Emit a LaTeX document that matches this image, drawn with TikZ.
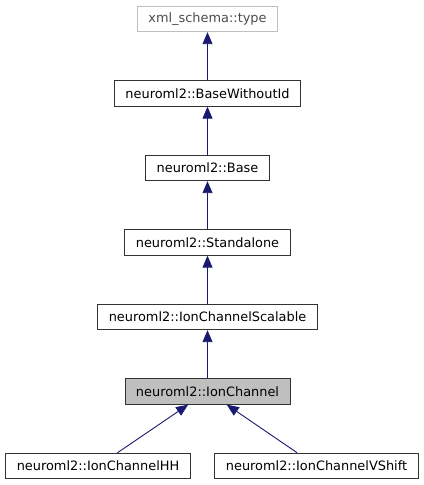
\documentclass[tikz,border=0pt]{standalone}
\usepackage{fontspec}
\setmainfont{DejaVu Sans}
\usetikzlibrary{arrows.meta,positioning}
\definecolor{kant}{HTML}{191970}
\definecolor{lysgraa}{HTML}{BFBFBF}
\tikzset{
    >={Triangle[length=12bp,width=10bp]},
    klasse/.style={
           rectangle,
           draw=black!80, line width=0.9bp,
           minimum height=25.5bp,
           inner xsep=11bp,
           text centered},
    ekstern/.style={
           klasse,
           draw=lysgraa,
           text=black!70},
    valgt/.style={
           klasse,
           fill=lysgraa},
    pil/.style={
           ->,
           draw=kant, line width=0.9bp}
}

\begin{document}
\begin{tikzpicture}[x=1bp,y=1bp]
          \def \trin {74.5}
          \def \midt {207.5}
          \fontsize{12.9bp}{15bp}\selectfont
          \useasboundingbox (0,0) rectangle (423,485);
          \node[ekstern](xmltype) at (\midt, {466 - 0*\trin}) {xml\_schema::type};
          \node[klasse](basewithoutid) at (\midt, {466 - 1*\trin}) {neuroml2::BaseWithoutId};
          \node[klasse](base) at (\midt, {466 - 2*\trin}) {neuroml2::Base};
          \node[klasse](standalone) at (\midt, {466 - 3*\trin}) {neuroml2::Standalone};
          \node[klasse](scalable) at (\midt, {466 - 4*\trin}) {neuroml2::IonChannelScalable};
          \node[valgt](ionchannel) at (\midt, {466 - 5*\trin}) {neuroml2::IonChannel};
          \node[klasse](hh) at (98, {466 - 6*\trin}) {neuroml2::IonChannelHH};
          \node[klasse](vshift) at (316.5, {466 - 6*\trin}) {neuroml2::IonChannelVShift};
          \draw[pil] (basewithoutid) -- (xmltype);
          \draw[pil] (base) -- (basewithoutid);
          \draw[pil] (standalone) -- (base);
          \draw[pil] (scalable) -- (standalone);
          \draw[pil] (ionchannel) -- (scalable);
          \draw[pil] (hh) -- (ionchannel);
          \draw[pil] (vshift) -- (ionchannel);
         \end{tikzpicture}
\end{document}
